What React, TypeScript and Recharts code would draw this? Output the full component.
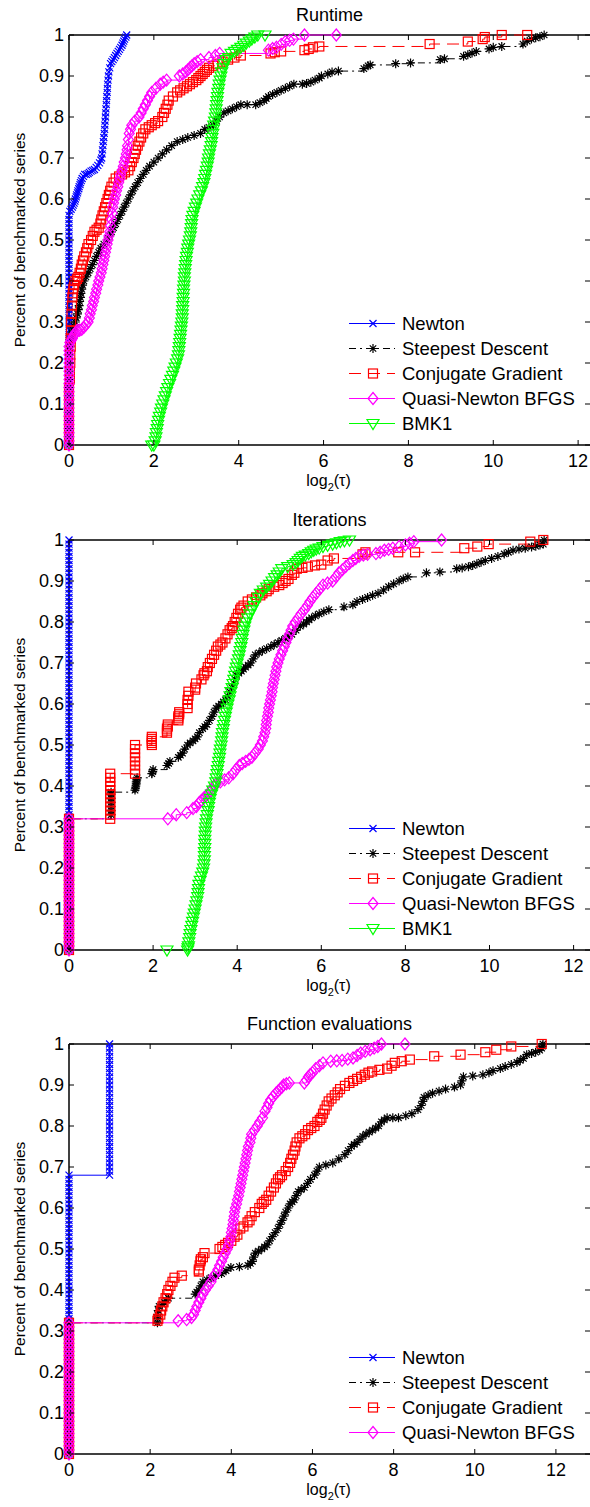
import React from 'react';
import { LineChart, Line, XAxis, YAxis, ReferenceLine, Legend } from 'recharts';

type Pt = [number, number];

// x = log2(tau), y = share of benchmarked series

// ---------- Runtime ----------
const newtonRuntime: Pt[] = [
  [0, 0], [0, 0.02], [0, 0.04], [0, 0.06], [0, 0.08], [0, 0.1], [0, 0.12], [0, 0.14], [0, 0.16], [0, 0.18],
  [0, 0.2], [0, 0.22], [0, 0.24], [0, 0.25], [0, 0.26], [0, 0.27], [0, 0.28], [0, 0.29], [0, 0.3], [0, 0.31],
  [0, 0.32], [0, 0.33], [0, 0.34], [0, 0.35], [0, 0.36], [0, 0.37], [0, 0.38], [0, 0.39], [0, 0.4], [0, 0.41],
  [0, 0.42], [0, 0.43], [0, 0.44], [0, 0.45], [0, 0.46], [0, 0.47], [0, 0.48], [0, 0.49], [0, 0.5], [0, 0.51],
  [0, 0.52], [0, 0.53], [0, 0.54], [0, 0.55], [0, 0.56],
  [0.02, 0.57], [0.05, 0.575], [0.08, 0.58], [0.1, 0.585], [0.12, 0.59], [0.14, 0.595], [0.15, 0.6],
  [0.17, 0.605], [0.18, 0.61], [0.2, 0.615], [0.21, 0.62], [0.23, 0.625], [0.24, 0.63], [0.26, 0.635],
  [0.27, 0.64], [0.29, 0.645], [0.31, 0.65], [0.34, 0.655], [0.37, 0.66], [0.41, 0.66], [0.45, 0.662],
  [0.48, 0.665], [0.52, 0.668], [0.56, 0.67], [0.6, 0.672], [0.64, 0.677], [0.68, 0.682], [0.72, 0.688],
  [0.75, 0.695], [0.77, 0.7], [0.78, 0.71], [0.79, 0.72], [0.8, 0.73], [0.81, 0.74], [0.82, 0.75], [0.83, 0.76],
  [0.84, 0.77], [0.845, 0.78], [0.85, 0.79], [0.86, 0.8], [0.865, 0.81], [0.87, 0.82], [0.88, 0.83],
  [0.885, 0.84], [0.89, 0.85], [0.9, 0.86], [0.905, 0.87], [0.91, 0.88], [0.92, 0.89], [0.93, 0.9],
  [0.94, 0.91], [0.96, 0.92], [0.98, 0.93], [1.01, 0.935], [1.04, 0.94], [1.07, 0.945], [1.1, 0.95],
  [1.13, 0.955], [1.16, 0.96], [1.19, 0.965], [1.22, 0.97], [1.25, 0.975], [1.27, 0.98], [1.29, 0.985],
  [1.31, 0.99], [1.34, 0.995], [1.36, 1.0],
];
const sdRuntime: Pt[] = [
  [0, 0], [0, 0.02], [0, 0.04], [0, 0.06], [0, 0.08], [0, 0.1], [0, 0.12], [0, 0.14], [0, 0.16], [0, 0.18],
  [0, 0.2], [0, 0.22],
  [0.02, 0.23], [0.03, 0.24], [0.05, 0.25], [0.06, 0.26], [0.08, 0.27], [0.1, 0.28], [0.12, 0.29], [0.15, 0.3],
  [0.17, 0.31], [0.2, 0.32], [0.22, 0.33], [0.24, 0.34], [0.25, 0.35], [0.27, 0.36], [0.28, 0.37], [0.3, 0.38],
  [0.32, 0.39], [0.35, 0.4], [0.4, 0.41], [0.45, 0.42], [0.5, 0.43], [0.55, 0.44], [0.6, 0.45], [0.65, 0.46],
  [0.7, 0.47], [0.75, 0.48], [0.82, 0.49], [0.9, 0.5], [0.95, 0.51], [1.0, 0.52], [1.05, 0.53], [1.1, 0.54],
  [1.15, 0.55], [1.2, 0.56], [1.25, 0.57], [1.3, 0.58], [1.35, 0.59], [1.4, 0.6], [1.45, 0.61], [1.5, 0.62],
  [1.56, 0.63], [1.62, 0.64], [1.68, 0.65], [1.75, 0.66], [1.82, 0.67], [1.9, 0.68], [2.0, 0.69], [2.1, 0.7],
  [2.2, 0.71], [2.3, 0.72], [2.42, 0.73], [2.55, 0.74], [2.68, 0.745], [2.8, 0.75], [2.95, 0.755], [3.1, 0.76],
  [3.2, 0.77], [3.3, 0.775], [3.4, 0.78], [3.48, 0.79], [3.55, 0.8], [3.65, 0.81], [3.75, 0.815], [3.85, 0.82],
  [3.95, 0.825], [4.05, 0.83], [4.2, 0.83], [4.4, 0.83], [4.5, 0.835], [4.6, 0.84], [4.65, 0.845], [4.7, 0.85],
  [4.8, 0.855], [4.9, 0.86], [5.0, 0.865], [5.1, 0.87], [5.2, 0.875], [5.3, 0.88], [5.5, 0.88], [5.6, 0.882],
  [5.7, 0.885], [5.8, 0.89], [5.9, 0.895], [5.95, 0.9], [6.1, 0.905], [6.2, 0.91], [6.35, 0.912], [6.95, 0.918],
  [7.05, 0.925], [7.1, 0.927], [7.7, 0.93], [8.05, 0.932], [8.75, 0.94], [8.85, 0.942], [9.3, 0.948],
  [9.4, 0.952], [9.5, 0.956], [9.6, 0.96], [9.9, 0.966], [10.0, 0.97], [10.2, 0.972], [10.7, 0.978],
  [10.8, 0.985], [10.9, 0.99], [11.0, 0.993], [11.1, 0.996], [11.2, 1.0],
];
const cgRuntime: Pt[] = [
  [0, 0], [0, 0.02], [0, 0.04], [0, 0.06], [0, 0.08], [0, 0.1], [0, 0.12], [0, 0.14],
  [0.02, 0.16], [0.02, 0.18], [0.03, 0.2], [0.03, 0.22], [0.04, 0.24], [0.04, 0.26], [0.05, 0.28], [0.05, 0.3],
  [0.06, 0.32], [0.07, 0.34], [0.08, 0.36], [0.09, 0.37], [0.1, 0.38], [0.12, 0.39], [0.15, 0.4], [0.19, 0.405],
  [0.22, 0.41], [0.25, 0.42], [0.28, 0.43], [0.3, 0.44], [0.33, 0.45], [0.36, 0.46], [0.4, 0.47], [0.43, 0.48],
  [0.46, 0.49], [0.52, 0.5], [0.56, 0.51], [0.6, 0.52], [0.65, 0.525], [0.7, 0.53], [0.74, 0.54], [0.76, 0.55],
  [0.79, 0.56], [0.82, 0.57], [0.85, 0.58], [0.88, 0.59], [0.91, 0.6], [0.94, 0.61], [0.97, 0.62], [1.0, 0.63],
  [1.05, 0.64], [1.1, 0.65], [1.18, 0.655], [1.25, 0.66], [1.32, 0.665], [1.4, 0.67], [1.44, 0.68],
  [1.48, 0.69], [1.52, 0.7], [1.55, 0.71], [1.58, 0.72], [1.62, 0.73], [1.66, 0.74], [1.7, 0.75], [1.75, 0.76],
  [1.8, 0.77], [1.88, 0.775], [1.95, 0.78], [2.03, 0.785], [2.1, 0.79], [2.2, 0.8], [2.24, 0.81], [2.28, 0.82],
  [2.32, 0.83], [2.35, 0.84], [2.45, 0.85], [2.55, 0.86], [2.62, 0.865], [2.7, 0.87], [2.78, 0.875],
  [2.85, 0.88], [2.92, 0.885], [3.0, 0.89], [3.05, 0.895], [3.1, 0.9], [3.15, 0.905], [3.2, 0.91], [3.25, 0.915],
  [3.3, 0.92], [3.4, 0.925], [3.5, 0.93], [3.62, 0.935], [3.75, 0.94], [3.9, 0.945], [4.05, 0.95], [4.75, 0.955],
  [4.85, 0.958], [5.0, 0.96], [5.55, 0.963], [5.65, 0.966], [5.75, 0.97], [5.9, 0.972], [8.5, 0.978],
  [9.4, 0.984], [9.75, 0.99], [9.8, 0.995], [10.2, 1.0], [10.8, 1.0],
];
const qnRuntime: Pt[] = [
  [0, 0], [0, 0.01], [0, 0.02], [0, 0.03], [0, 0.04], [0, 0.05], [0, 0.06], [0, 0.07], [0, 0.08], [0, 0.09],
  [0, 0.1], [0, 0.11], [0, 0.12], [0, 0.13], [0, 0.14], [0, 0.15], [0, 0.16], [0, 0.17], [0, 0.18], [0, 0.19],
  [0, 0.2], [0, 0.21], [0, 0.22], [0, 0.23], [0, 0.24],
  [0.02, 0.25], [0.05, 0.255], [0.08, 0.26], [0.1, 0.265], [0.13, 0.27], [0.16, 0.275], [0.2, 0.28],
  [0.25, 0.28], [0.3, 0.282], [0.35, 0.287], [0.4, 0.293], [0.45, 0.3], [0.48, 0.31], [0.5, 0.32], [0.53, 0.33],
  [0.55, 0.34], [0.58, 0.35], [0.6, 0.36], [0.63, 0.37], [0.65, 0.38], [0.68, 0.39], [0.7, 0.4], [0.73, 0.41],
  [0.76, 0.42], [0.78, 0.43], [0.8, 0.44], [0.82, 0.45], [0.84, 0.46], [0.86, 0.47], [0.88, 0.48], [0.9, 0.49],
  [0.92, 0.5], [0.94, 0.51], [0.96, 0.52], [0.98, 0.535], [1.0, 0.55], [1.02, 0.565], [1.03, 0.58],
  [1.05, 0.59], [1.07, 0.6], [1.1, 0.61], [1.12, 0.62], [1.15, 0.63], [1.17, 0.64], [1.2, 0.65], [1.22, 0.66],
  [1.25, 0.67], [1.28, 0.68], [1.3, 0.69], [1.33, 0.7], [1.35, 0.71], [1.37, 0.72], [1.38, 0.73], [1.4, 0.745],
  [1.42, 0.76], [1.45, 0.77], [1.48, 0.78], [1.55, 0.79], [1.65, 0.8], [1.7, 0.81], [1.75, 0.82], [1.8, 0.83],
  [1.85, 0.84], [1.9, 0.85], [1.95, 0.86], [2.05, 0.87], [2.15, 0.88], [2.22, 0.885], [2.3, 0.89], [2.6, 0.9],
  [2.68, 0.905], [2.75, 0.91], [2.8, 0.915], [2.85, 0.92], [2.9, 0.925], [2.95, 0.93], [3.02, 0.935],
  [3.1, 0.94], [3.3, 0.945], [3.45, 0.95], [3.55, 0.955], [4.7, 0.963], [4.8, 0.967], [4.89, 0.97],
  [5.0, 0.977], [5.1, 0.984], [5.2, 0.987], [5.29, 0.99], [5.55, 1.0], [6.3, 1.0],
];
const bmkRuntime: Pt[] = [
  [1.95, 0], [2.0, 0], [2.03, 0.01], [2.05, 0.02], [2.06, 0.03], [2.08, 0.04], [2.09, 0.05], [2.11, 0.06],
  [2.13, 0.07], [2.16, 0.08], [2.18, 0.09], [2.21, 0.1], [2.24, 0.11], [2.27, 0.12], [2.3, 0.13], [2.33, 0.14],
  [2.37, 0.15], [2.4, 0.16], [2.44, 0.17], [2.47, 0.18], [2.5, 0.19], [2.53, 0.2], [2.56, 0.21], [2.58, 0.22],
  [2.59, 0.23], [2.6, 0.24], [2.61, 0.25], [2.62, 0.26], [2.63, 0.27], [2.64, 0.28], [2.65, 0.29], [2.66, 0.3],
  [2.67, 0.31], [2.67, 0.32], [2.68, 0.33], [2.68, 0.34], [2.69, 0.35], [2.69, 0.36], [2.7, 0.37], [2.7, 0.38],
  [2.71, 0.39], [2.72, 0.4], [2.72, 0.41], [2.73, 0.42], [2.74, 0.43], [2.75, 0.44], [2.76, 0.45], [2.77, 0.46],
  [2.79, 0.47], [2.8, 0.48], [2.82, 0.49], [2.84, 0.5], [2.86, 0.51], [2.87, 0.52], [2.88, 0.53], [2.89, 0.54],
  [2.9, 0.55], [2.92, 0.56], [2.95, 0.57], [2.98, 0.58], [3.01, 0.59], [3.04, 0.6], [3.08, 0.61], [3.12, 0.62],
  [3.15, 0.63], [3.18, 0.64], [3.2, 0.65], [3.22, 0.66], [3.24, 0.67], [3.26, 0.68], [3.28, 0.69], [3.29, 0.7],
  [3.31, 0.71], [3.33, 0.72], [3.35, 0.73], [3.36, 0.74], [3.37, 0.75], [3.39, 0.76], [3.4, 0.77], [3.41, 0.78],
  [3.43, 0.79], [3.45, 0.8], [3.46, 0.81], [3.47, 0.82], [3.48, 0.83], [3.49, 0.84], [3.5, 0.85], [3.51, 0.86],
  [3.53, 0.87], [3.54, 0.88], [3.56, 0.89], [3.58, 0.9], [3.6, 0.91], [3.63, 0.92], [3.66, 0.93], [3.7, 0.94],
  [3.76, 0.945], [3.82, 0.955], [3.9, 0.96], [3.97, 0.965], [4.05, 0.97], [4.12, 0.975], [4.18, 0.98],
  [4.25, 0.985], [4.31, 0.99], [4.38, 0.995], [4.45, 1.0], [4.62, 1.0],
];

// share of problems where a method ties for best (iterations, function evaluations)
const tiedAtOne: Pt[] = [
  [0, 0], [0, 0.01], [0, 0.02], [0, 0.03], [0, 0.04], [0, 0.05], [0, 0.06], [0, 0.07], [0, 0.08], [0, 0.09],
  [0, 0.1], [0, 0.11], [0, 0.12], [0, 0.13], [0, 0.14], [0, 0.15], [0, 0.16], [0, 0.17], [0, 0.18], [0, 0.19],
  [0, 0.2], [0, 0.21], [0, 0.22], [0, 0.23], [0, 0.24], [0, 0.25], [0, 0.26], [0, 0.27], [0, 0.28], [0, 0.29],
  [0, 0.3], [0, 0.31], [0, 0.32],
];

// ---------- Iterations ----------
const newtonIterations: Pt[] = [
  ...tiedAtOne,
  [0, 0.33], [0, 0.34], [0, 0.35], [0, 0.36], [0, 0.37], [0, 0.38], [0, 0.39], [0, 0.4], [0, 0.41], [0, 0.42],
  [0, 0.43], [0, 0.44], [0, 0.45], [0, 0.46], [0, 0.47], [0, 0.48], [0, 0.49], [0, 0.5], [0, 0.51], [0, 0.52],
  [0, 0.53], [0, 0.54], [0, 0.55], [0, 0.56], [0, 0.57], [0, 0.58], [0, 0.59], [0, 0.6], [0, 0.61], [0, 0.62],
  [0, 0.63], [0, 0.64], [0, 0.65], [0, 0.66], [0, 0.67], [0, 0.68], [0, 0.69], [0, 0.7], [0, 0.71], [0, 0.72],
  [0, 0.73], [0, 0.74], [0, 0.75], [0, 0.76], [0, 0.77], [0, 0.78], [0, 0.79], [0, 0.8], [0, 0.81], [0, 0.82],
  [0, 0.83], [0, 0.84], [0, 0.85], [0, 0.86], [0, 0.87], [0, 0.88], [0, 0.89], [0, 0.9], [0, 0.91], [0, 0.92],
  [0, 0.93], [0, 0.94], [0, 0.95], [0, 0.96], [0, 0.97], [0, 0.98], [0, 0.99], [0, 1.0],
];
const sdIterations: Pt[] = [
  ...tiedAtOne,
  [1.0, 0.33], [1.0, 0.34], [1.0, 0.35], [1.0, 0.36], [1.0, 0.37], [1.0, 0.38], [1.0, 0.385], [1.57, 0.39],
  [1.58, 0.395], [1.59, 0.4], [1.6, 0.405], [1.6, 0.41], [1.61, 0.415], [1.62, 0.42], [1.97, 0.43],
  [1.99, 0.435], [2.0, 0.44], [2.33, 0.45], [2.37, 0.455], [2.4, 0.46], [2.6, 0.47], [2.65, 0.475], [2.7, 0.48],
  [2.75, 0.49], [2.82, 0.5], [2.88, 0.505], [2.95, 0.51], [3.0, 0.515], [3.05, 0.52], [3.1, 0.53], [3.18, 0.54],
  [3.23, 0.545], [3.28, 0.55], [3.34, 0.56], [3.4, 0.57], [3.45, 0.58], [3.5, 0.59], [3.56, 0.595], [3.62, 0.6],
  [3.67, 0.605], [3.72, 0.61], [3.77, 0.62], [3.82, 0.63], [3.87, 0.64], [3.92, 0.65], [3.95, 0.66],
  [3.98, 0.67], [4.04, 0.675], [4.1, 0.68], [4.15, 0.685], [4.2, 0.69], [4.26, 0.695], [4.32, 0.7], [4.38, 0.71],
  [4.43, 0.72], [4.52, 0.725], [4.6, 0.73], [4.7, 0.735], [4.8, 0.74], [4.88, 0.745], [4.97, 0.75],
  [5.06, 0.755], [5.15, 0.76], [5.22, 0.765], [5.3, 0.77], [5.4, 0.78], [5.5, 0.79], [5.58, 0.795], [5.65, 0.8],
  [5.71, 0.805], [5.77, 0.81], [5.86, 0.815], [5.95, 0.82], [6.06, 0.825], [6.18, 0.83], [6.54, 0.837],
  [6.75, 0.842], [6.85, 0.85], [6.98, 0.855], [7.1, 0.86], [7.22, 0.865], [7.35, 0.87], [7.48, 0.878],
  [7.6, 0.886], [7.72, 0.893], [7.85, 0.9], [7.95, 0.905], [8.06, 0.91], [8.5, 0.92], [8.82, 0.922],
  [9.22, 0.93], [9.35, 0.932], [9.5, 0.935], [9.6, 0.938], [9.7, 0.942], [9.8, 0.946], [9.9, 0.95],
  [10.05, 0.955], [10.2, 0.96], [10.35, 0.966], [10.45, 0.97], [10.56, 0.975], [10.7, 0.978], [10.85, 0.98],
  [11.0, 0.983], [11.1, 0.985], [11.2, 0.988], [11.28, 0.99], [11.3, 1.0],
];
const cgIterations: Pt[] = [
  ...tiedAtOne,
  [0.98, 0.32], [0.98, 0.33], [0.98, 0.34], [0.98, 0.35], [0.98, 0.36], [0.98, 0.37], [0.98, 0.38],
  [0.98, 0.39], [0.98, 0.4], [0.98, 0.41], [0.98, 0.42], [0.98, 0.43], [1.57, 0.43], [1.57, 0.44],
  [1.57, 0.45], [1.57, 0.46], [1.57, 0.47], [1.57, 0.48], [1.57, 0.49], [1.57, 0.5], [1.97, 0.5], [1.97, 0.505],
  [1.97, 0.51], [1.97, 0.515], [1.97, 0.52], [2.33, 0.53], [2.33, 0.535], [2.33, 0.54], [2.35, 0.545],
  [2.35, 0.55], [2.6, 0.56], [2.6, 0.565], [2.6, 0.57], [2.62, 0.575], [2.62, 0.58], [2.82, 0.59], [2.82, 0.6],
  [2.82, 0.61], [2.84, 0.62], [2.84, 0.63], [3.0, 0.635], [3.0, 0.64], [3.02, 0.65], [3.15, 0.66], [3.2, 0.67],
  [3.22, 0.675], [3.28, 0.68], [3.3, 0.69], [3.35, 0.7], [3.4, 0.71], [3.45, 0.72], [3.5, 0.73], [3.54, 0.74],
  [3.6, 0.745], [3.65, 0.75], [3.72, 0.76], [3.77, 0.77], [3.82, 0.78], [3.87, 0.785], [3.9, 0.79], [3.94, 0.8],
  [3.98, 0.81], [4.02, 0.82], [4.07, 0.83], [4.1, 0.835], [4.15, 0.84], [4.25, 0.85], [4.35, 0.855],
  [4.45, 0.86], [4.55, 0.865], [4.6, 0.87], [4.7, 0.875], [4.75, 0.88], [4.88, 0.886], [5.0, 0.89],
  [5.08, 0.895], [5.15, 0.9], [5.22, 0.905], [5.3, 0.915], [5.36, 0.92], [5.42, 0.93], [5.55, 0.932],
  [5.68, 0.935], [5.85, 0.938], [6.0, 0.94], [6.15, 0.95], [6.3, 0.955], [6.98, 0.965], [7.05, 0.97],
  [7.83, 0.97], [8.23, 0.97], [9.4, 0.98], [9.71, 0.984], [9.98, 0.99], [10.97, 0.996], [11.28, 1.0],
];
const qnIterations: Pt[] = [
  ...tiedAtOne,
  [2.35, 0.32], [2.55, 0.33], [2.8, 0.335], [2.95, 0.345], [3.03, 0.35], [3.1, 0.36], [3.15, 0.365],
  [3.2, 0.37], [3.25, 0.375], [3.3, 0.38], [3.35, 0.385], [3.4, 0.39], [3.45, 0.4], [3.5, 0.405], [3.6, 0.41],
  [3.7, 0.415], [3.8, 0.42], [3.9, 0.43], [3.97, 0.44], [4.05, 0.45], [4.12, 0.455], [4.2, 0.46], [4.28, 0.465],
  [4.35, 0.47], [4.42, 0.48], [4.5, 0.49], [4.55, 0.5], [4.6, 0.51], [4.63, 0.52], [4.66, 0.53], [4.68, 0.54],
  [4.69, 0.55], [4.7, 0.56], [4.72, 0.57], [4.74, 0.58], [4.75, 0.59], [4.77, 0.6], [4.79, 0.61], [4.81, 0.62],
  [4.83, 0.63], [4.84, 0.64], [4.86, 0.65], [4.88, 0.66], [4.9, 0.67], [4.92, 0.68], [4.94, 0.69], [4.97, 0.7],
  [5.0, 0.71], [5.04, 0.72], [5.08, 0.73], [5.12, 0.74], [5.16, 0.75], [5.2, 0.76], [5.24, 0.77], [5.28, 0.78],
  [5.32, 0.79], [5.38, 0.8], [5.45, 0.81], [5.52, 0.82], [5.6, 0.83], [5.67, 0.84], [5.73, 0.85], [5.8, 0.86],
  [5.88, 0.87], [5.96, 0.88], [6.04, 0.89], [6.15, 0.895], [6.27, 0.9], [6.35, 0.91], [6.42, 0.92],
  [6.5, 0.927], [6.58, 0.935], [6.67, 0.943], [6.75, 0.95], [6.82, 0.955], [6.9, 0.96], [7.0, 0.963],
  [7.1, 0.965], [7.3, 0.967], [7.4, 0.97], [7.5, 0.975], [7.6, 0.977], [7.7, 0.98], [7.85, 0.984], [8.0, 0.988],
  [8.1, 0.992], [8.2, 0.996], [8.86, 1.0],
];
const bmkIterations: Pt[] = [
  [2.33, 0], [2.82, 0], [2.83, 0.005], [2.84, 0.01], [2.85, 0.02], [2.87, 0.03], [2.88, 0.04], [2.9, 0.05],
  [2.92, 0.06], [2.94, 0.07], [2.96, 0.08], [2.98, 0.09], [3.0, 0.1], [3.02, 0.11], [3.04, 0.12], [3.06, 0.13],
  [3.07, 0.14], [3.08, 0.15], [3.09, 0.16], [3.12, 0.17], [3.15, 0.18], [3.18, 0.19], [3.2, 0.2], [3.21, 0.21],
  [3.22, 0.22], [3.22, 0.23], [3.22, 0.24], [3.23, 0.25], [3.23, 0.26], [3.23, 0.27], [3.24, 0.28],
  [3.24, 0.29], [3.25, 0.3], [3.26, 0.31], [3.27, 0.32], [3.29, 0.33], [3.31, 0.34], [3.32, 0.35], [3.34, 0.36],
  [3.36, 0.37], [3.39, 0.38], [3.42, 0.39], [3.46, 0.4], [3.49, 0.41], [3.5, 0.42], [3.52, 0.43], [3.53, 0.44],
  [3.55, 0.45], [3.56, 0.46], [3.58, 0.47], [3.59, 0.48], [3.6, 0.49], [3.62, 0.5], [3.63, 0.51], [3.64, 0.52],
  [3.65, 0.53], [3.67, 0.54], [3.68, 0.55], [3.7, 0.56], [3.72, 0.57], [3.74, 0.58], [3.76, 0.59], [3.78, 0.6],
  [3.81, 0.61], [3.83, 0.62], [3.85, 0.63], [3.88, 0.64], [3.9, 0.65], [3.92, 0.66], [3.94, 0.67], [3.96, 0.68],
  [3.98, 0.69], [4.0, 0.7], [4.03, 0.71], [4.05, 0.72], [4.07, 0.73], [4.09, 0.74], [4.11, 0.75], [4.12, 0.76],
  [4.14, 0.77], [4.16, 0.78], [4.18, 0.79], [4.21, 0.8], [4.25, 0.81], [4.3, 0.82], [4.35, 0.83], [4.4, 0.84],
  [4.45, 0.85], [4.5, 0.86], [4.55, 0.87], [4.62, 0.878], [4.7, 0.885], [4.77, 0.892], [4.83, 0.9],
  [4.89, 0.908], [4.95, 0.915], [5.0, 0.922], [5.06, 0.93], [5.2, 0.935], [5.33, 0.94], [5.4, 0.945],
  [5.45, 0.95], [5.5, 0.955], [5.55, 0.96], [5.62, 0.963], [5.7, 0.967], [5.76, 0.971], [5.82, 0.975],
  [5.88, 0.978], [5.95, 0.98], [6.04, 0.984], [6.15, 0.987], [6.27, 0.99], [6.36, 0.993], [6.45, 0.996],
  [6.55, 0.998], [6.67, 1.0],
];

// ---------- Function evaluations ----------
const newtonEvaluations: Pt[] = [
  ...tiedAtOne,
  [0, 0.33], [0, 0.34], [0, 0.35], [0, 0.36], [0, 0.37], [0, 0.38], [0, 0.39], [0, 0.4], [0, 0.41], [0, 0.42],
  [0, 0.43], [0, 0.44], [0, 0.45], [0, 0.46], [0, 0.47], [0, 0.48], [0, 0.49], [0, 0.5], [0, 0.51], [0, 0.52],
  [0, 0.53], [0, 0.54], [0, 0.55], [0, 0.56], [0, 0.57], [0, 0.58], [0, 0.59], [0, 0.6], [0, 0.61], [0, 0.62],
  [0, 0.63], [0, 0.64], [0, 0.65], [0, 0.66], [0, 0.67], [0, 0.68],
  [1.0, 0.68], [1.0, 0.69], [1.0, 0.7], [1.0, 0.71], [1.0, 0.72], [1.0, 0.73], [1.0, 0.74], [1.0, 0.75],
  [1.0, 0.76], [1.0, 0.77], [1.0, 0.78], [1.0, 0.79], [1.0, 0.8], [1.0, 0.81], [1.0, 0.82], [1.0, 0.83],
  [1.0, 0.84], [1.0, 0.85], [1.0, 0.86], [1.0, 0.87], [1.0, 0.88], [1.0, 0.89], [1.0, 0.9], [1.0, 0.91],
  [1.0, 0.92], [1.0, 0.93], [1.0, 0.94], [1.0, 0.95], [1.0, 0.96], [1.0, 0.97], [1.0, 0.98], [1.0, 0.99],
  [1.0, 1.0],
];
const sdEvaluations: Pt[] = [
  ...tiedAtOne,
  [2.18, 0.32], [2.18, 0.33], [2.18, 0.34], [2.2, 0.35], [2.22, 0.36], [2.3, 0.365], [2.35, 0.37], [2.4, 0.375],
  [2.45, 0.38], [3.11, 0.39], [3.15, 0.395], [3.2, 0.4], [3.25, 0.41], [3.3, 0.42], [3.4, 0.425], [3.5, 0.43],
  [3.62, 0.435], [3.76, 0.44], [3.87, 0.447], [3.99, 0.455], [4.2, 0.457], [4.41, 0.46], [4.47, 0.465],
  [4.52, 0.47], [4.55, 0.48], [4.59, 0.49], [4.67, 0.495], [4.75, 0.5], [4.82, 0.505], [4.88, 0.51],
  [4.94, 0.52], [5.01, 0.53], [5.08, 0.54], [5.15, 0.55], [5.2, 0.56], [5.25, 0.57], [5.3, 0.58], [5.34, 0.59],
  [5.4, 0.6], [5.45, 0.61], [5.5, 0.615], [5.55, 0.62], [5.6, 0.63], [5.65, 0.64], [5.72, 0.645], [5.8, 0.65],
  [5.88, 0.66], [5.95, 0.67], [6.05, 0.68], [6.11, 0.69], [6.17, 0.7], [6.33, 0.705], [6.5, 0.71], [6.65, 0.72],
  [6.8, 0.73], [6.88, 0.74], [6.96, 0.75], [7.03, 0.755], [7.1, 0.76], [7.17, 0.768], [7.24, 0.775],
  [7.32, 0.78], [7.4, 0.785], [7.48, 0.79], [7.56, 0.795], [7.63, 0.8], [7.7, 0.81], [7.77, 0.815], [7.84, 0.82],
  [7.98, 0.82], [8.12, 0.82], [8.3, 0.825], [8.45, 0.83], [8.6, 0.84], [8.68, 0.85], [8.72, 0.86], [8.75, 0.87],
  [8.85, 0.875], [8.96, 0.88], [9.12, 0.885], [9.28, 0.89], [9.5, 0.895], [9.65, 0.9], [9.68, 0.91],
  [9.72, 0.92], [9.95, 0.922], [10.2, 0.925], [10.35, 0.93], [10.45, 0.935], [10.63, 0.94], [10.75, 0.945],
  [10.9, 0.95], [11.04, 0.955], [11.12, 0.96], [11.2, 0.965], [11.28, 0.974], [11.4, 0.977], [11.5, 0.98],
  [11.6, 0.985], [11.65, 0.99], [11.67, 0.995], [11.68, 1.0],
];
const cgEvaluations: Pt[] = [
  ...tiedAtOne,
  [2.18, 0.325], [2.2, 0.33], [2.25, 0.34], [2.27, 0.35], [2.3, 0.36], [2.33, 0.37], [2.38, 0.38], [2.42, 0.39],
  [2.45, 0.4], [2.5, 0.41], [2.55, 0.42], [2.6, 0.43], [2.78, 0.435], [3.2, 0.445], [3.2, 0.45], [3.22, 0.46],
  [3.24, 0.47], [3.25, 0.475], [3.3, 0.48], [3.34, 0.49], [3.71, 0.5], [3.78, 0.505], [3.85, 0.51],
  [3.92, 0.515], [4.0, 0.52], [4.08, 0.53], [4.15, 0.535], [4.22, 0.55], [4.3, 0.555], [4.4, 0.565],
  [4.45, 0.57], [4.5, 0.58], [4.58, 0.59], [4.69, 0.6], [4.75, 0.61], [4.8, 0.615], [4.86, 0.62], [4.92, 0.63],
  [4.98, 0.64], [5.05, 0.65], [5.1, 0.66], [5.15, 0.67], [5.2, 0.675], [5.25, 0.68], [5.34, 0.69], [5.4, 0.7],
  [5.45, 0.71], [5.48, 0.72], [5.52, 0.73], [5.56, 0.74], [5.58, 0.75], [5.61, 0.76], [5.68, 0.77],
  [5.75, 0.775], [5.82, 0.78], [5.89, 0.79], [5.97, 0.795], [6.05, 0.8], [6.12, 0.81], [6.18, 0.815],
  [6.22, 0.82], [6.26, 0.83], [6.3, 0.84], [6.35, 0.85], [6.4, 0.86], [6.47, 0.867], [6.55, 0.875],
  [6.62, 0.882], [6.68, 0.89], [6.8, 0.898], [6.91, 0.905], [7.0, 0.91], [7.1, 0.915], [7.2, 0.92],
  [7.29, 0.925], [7.38, 0.93], [7.47, 0.933], [7.65, 0.937], [7.84, 0.94], [7.95, 0.947], [8.03, 0.954],
  [8.2, 0.958], [8.4, 0.962], [9.0, 0.97], [9.65, 0.974], [10.26, 0.98], [10.53, 0.986], [10.9, 0.994],
  [11.65, 1.0],
];
const qnEvaluations: Pt[] = [
  ...tiedAtOne,
  [2.69, 0.325], [2.9, 0.328], [3.02, 0.333], [3.07, 0.34], [3.11, 0.35], [3.15, 0.36], [3.2, 0.37],
  [3.25, 0.38], [3.3, 0.39], [3.36, 0.4], [3.43, 0.41], [3.5, 0.42], [3.57, 0.434], [3.62, 0.44], [3.67, 0.45],
  [3.71, 0.46], [3.76, 0.47], [3.8, 0.48], [3.85, 0.49], [3.9, 0.5], [3.93, 0.51], [3.96, 0.52], [3.99, 0.53],
  [4.0, 0.54], [4.02, 0.55], [4.04, 0.56], [4.05, 0.57], [4.07, 0.58], [4.08, 0.59], [4.1, 0.6], [4.13, 0.61],
  [4.15, 0.62], [4.18, 0.63], [4.2, 0.64], [4.22, 0.65], [4.24, 0.66], [4.26, 0.67], [4.28, 0.68], [4.3, 0.69],
  [4.32, 0.7], [4.34, 0.71], [4.36, 0.72], [4.38, 0.73], [4.4, 0.74], [4.42, 0.75], [4.46, 0.76], [4.48, 0.77],
  [4.5, 0.78], [4.57, 0.79], [4.64, 0.8], [4.7, 0.81], [4.77, 0.82], [4.83, 0.836], [4.88, 0.845],
  [4.92, 0.855], [4.97, 0.864], [5.03, 0.872], [5.1, 0.88], [5.15, 0.885], [5.2, 0.89], [5.25, 0.895],
  [5.29, 0.9], [5.36, 0.903], [5.43, 0.905], [5.8, 0.905], [5.85, 0.912], [5.9, 0.92], [5.94, 0.925],
  [6.0, 0.93], [6.08, 0.94], [6.17, 0.947], [6.26, 0.954], [6.45, 0.958], [6.6, 0.959], [6.73, 0.96],
  [6.87, 0.963], [7.0, 0.966], [7.1, 0.972], [7.19, 0.978], [7.3, 0.982], [7.42, 0.986], [7.52, 0.99],
  [7.61, 0.994], [7.7, 1.0], [8.28, 1.0],
];

const X_TICKS = [0, 2, 4, 6, 8, 10, 12];
const Y_TICKS = [0, 0.1, 0.2, 0.3, 0.4, 0.5, 0.6, 0.7, 0.8, 0.9, 1];

const FONT = '"Liberation Sans", Arial, Helvetica, sans-serif';
const PLOT_W = 521;
const PLOT_H = 410;

type Kind = 'x' | 'star' | 'square' | 'diamond' | 'tri';
const STYLES: Record<string, { color: string; marker: Kind; dash?: string }> = {
  'Newton': { color: '#0000ff', marker: 'x' },
  'Steepest Descent': { color: '#000000', marker: 'star', dash: '7 4 2 4' },
  'Conjugate Gradient': { color: '#ff0000', marker: 'square', dash: '12 7' },
  'Quasi-Newton BFGS': { color: '#ff00ff', marker: 'diamond' },
  'BMK1': { color: '#00ff00', marker: 'tri' },
};

function Marker({ kind, cx, cy, color }: { kind: Kind; cx: number; cy: number; color: string }) {
  const common = { stroke: color, strokeWidth: 1.2, fill: 'none' };
  if (kind === 'x') {
    const r = 3.5;
    return <path {...common} d={`M${cx - r},${cy - r}L${cx + r},${cy + r}M${cx - r},${cy + r}L${cx + r},${cy - r}`} />;
  }
  if (kind === 'star') {
    const r = 4.5;
    const d = 3.2;
    return (
      <path
        {...common}
        d={`M${cx - r},${cy}L${cx + r},${cy}M${cx},${cy - r}L${cx},${cy + r}M${cx - d},${cy - d}L${cx + d},${cy + d}M${cx - d},${cy + d}L${cx + d},${cy - d}`}
      />
    );
  }
  if (kind === 'square') return <rect {...common} x={cx - 4.5} y={cy - 4.5} width={9} height={9} />;
  if (kind === 'diamond') return <path {...common} d={`M${cx},${cy - 6}L${cx + 5},${cy}L${cx},${cy + 6}L${cx - 5},${cy}Z`} />;
  return <path {...common} d={`M${cx - 6},${cy - 4}L${cx + 6},${cy - 4}L${cx},${cy + 6}Z`} />;
}

// MATLAB-style ticks: pointing inwards, mirrored on the opposite edge
const XTick = (props: any) => {
  const { x, y, payload } = props;
  return (
    <g>
      <line x1={x} y1={y} x2={x} y2={y - 5} stroke="#000" />
      <line x1={x} y1={y - PLOT_H} x2={x} y2={y - PLOT_H + 5} stroke="#000" />
      <text x={x} y={y + 16} textAnchor="middle" dominantBaseline="central" fontSize={18} fontFamily={FONT} fill="#000">
        {payload.value}
      </text>
    </g>
  );
};

const YTick = (props: any) => {
  const { x, y, payload } = props;
  return (
    <g>
      <line x1={x} y1={y} x2={x + 5} y2={y} stroke="#000" />
      <line x1={x + PLOT_W - 5} y1={y} x2={x + PLOT_W} y2={y} stroke="#000" />
      <text x={x - 5} y={y} textAnchor="end" dominantBaseline="central" fontSize={18} fontFamily={FONT} fill="#000">
        {payload.value}
      </text>
    </g>
  );
};

function LegendBox({ names }: { names: string[] }) {
  return (
    <div style={{ fontFamily: FONT, fontSize: 18.5, color: '#000' }}>
      {names.map((n) => {
        const st = STYLES[n];
        return (
          <div key={n} style={{ display: 'flex', alignItems: 'center', height: 25 }}>
            <svg width={53} height={25} style={{ flex: 'none' }}>
              <line x1={0} y1={12.5} x2={46} y2={12.5} stroke={st.color} strokeDasharray={st.dash} />
              <Marker kind={st.marker} cx={24} cy={12.5} color={st.color} />
            </svg>
            <span style={{ lineHeight: '25px', whiteSpace: 'nowrap' }}>{n}</span>
          </div>
        );
      })}
    </div>
  );
}

type Series = { name: string; points: Pt[] };

function Panel({ top, title, xMax, series }: { top: number; title: string; xMax: number; series: Series[] }) {
  const names = series.map((s) => s.name);
  const legendTop = 35 + PLOT_H - 22 - 12.5 - 25 * (names.length - 1);
  return (
    <div style={{ position: 'absolute', left: 0, top, width: 590, height: 500 }}>
      <LineChart width={590} height={500} margin={{ top: 35, right: 0, bottom: 0, left: 0 }}>
        <XAxis
          type="number"
          dataKey="x"
          domain={[0, xMax]}
          ticks={X_TICKS}
          interval={0}
          height={55}
          tickSize={0}
          tickMargin={0}
          tickLine={false}
          axisLine={{ stroke: '#000', strokeWidth: 1.5 }}
          tick={<XTick />}
        />
        <YAxis
          type="number"
          domain={[0, 1]}
          ticks={Y_TICKS}
          interval={0}
          width={69}
          tickSize={0}
          tickMargin={0}
          tickLine={false}
          axisLine={{ stroke: '#000', strokeWidth: 1.5 }}
          tick={<YTick />}
        />
        <ReferenceLine y={1} stroke="#000" strokeWidth={1.5} />
        {series.map((s) => {
          const st = STYLES[s.name];
          return (
            <Line
              key={s.name}
              name={s.name}
              data={s.points.map(([x, y]) => ({ x, y }))}
              dataKey="y"
              type="stepAfter"
              stroke={st.color}
              strokeWidth={1}
              strokeDasharray={st.dash}
              dot={(p: any) => (
                <Marker key={`${s.name}-${p.index}`} kind={st.marker} cx={p.cx} cy={p.cy} color={st.color} />
              )}
              activeDot={false}
              isAnimationActive={false}
            />
          );
        })}
        <Legend
          layout="vertical"
          align="center"
          verticalAlign="middle"
          content={() => <LegendBox names={names} />}
          wrapperStyle={{ left: 349, top: legendTop, width: 241, height: 25 * names.length }}
        />
      </LineChart>
      <div
        style={{
          position: 'absolute', left: 69, top: 5, width: PLOT_W, textAlign: 'center',
          fontFamily: FONT, fontSize: 18, lineHeight: '20px', color: '#000',
        }}
      >
        {title}
      </div>
      <div
        style={{
          position: 'absolute', left: 69, top: 471, width: PLOT_W - 2, textAlign: 'center',
          fontFamily: FONT, fontSize: 16, lineHeight: '20px', color: '#000',
        }}
      >
        log<span style={{ fontSize: 11, position: 'relative', top: 5 }}>2</span>(τ)
      </div>
      <div
        style={{
          position: 'absolute', left: 20 - 205, top: 240 - 9, width: 410, height: 18, textAlign: 'center',
          fontFamily: FONT, fontSize: 15.5, lineHeight: '18px', color: '#000', transform: 'rotate(-90deg)',
          whiteSpace: 'nowrap',
        }}
      >
        Percent of benchmarked series
      </div>
    </div>
  );
}

export default function App() {
  return (
    <div style={{ position: 'absolute', left: 0, top: 0, width: 590, height: 1507, background: '#fff', overflow: 'hidden' }}>
      <Panel
        top={0}
        title="Runtime"
        xMax={12.28}
        series={[
          { name: 'Newton', points: newtonRuntime },
          { name: 'Steepest Descent', points: sdRuntime },
          { name: 'Conjugate Gradient', points: cgRuntime },
          { name: 'Quasi-Newton BFGS', points: qnRuntime },
          { name: 'BMK1', points: bmkRuntime },
        ]}
      />
      <Panel
        top={505}
        title="Iterations"
        xMax={12.39}
        series={[
          { name: 'Newton', points: newtonIterations },
          { name: 'Steepest Descent', points: sdIterations },
          { name: 'Conjugate Gradient', points: cgIterations },
          { name: 'Quasi-Newton BFGS', points: qnIterations },
          { name: 'BMK1', points: bmkIterations },
        ]}
      />
      <Panel
        top={1009}
        title="Function evaluations"
        xMax={12.84}
        series={[
          { name: 'Newton', points: newtonEvaluations },
          { name: 'Steepest Descent', points: sdEvaluations },
          { name: 'Conjugate Gradient', points: cgEvaluations },
          { name: 'Quasi-Newton BFGS', points: qnEvaluations },
        ]}
      />
    </div>
  );
}
